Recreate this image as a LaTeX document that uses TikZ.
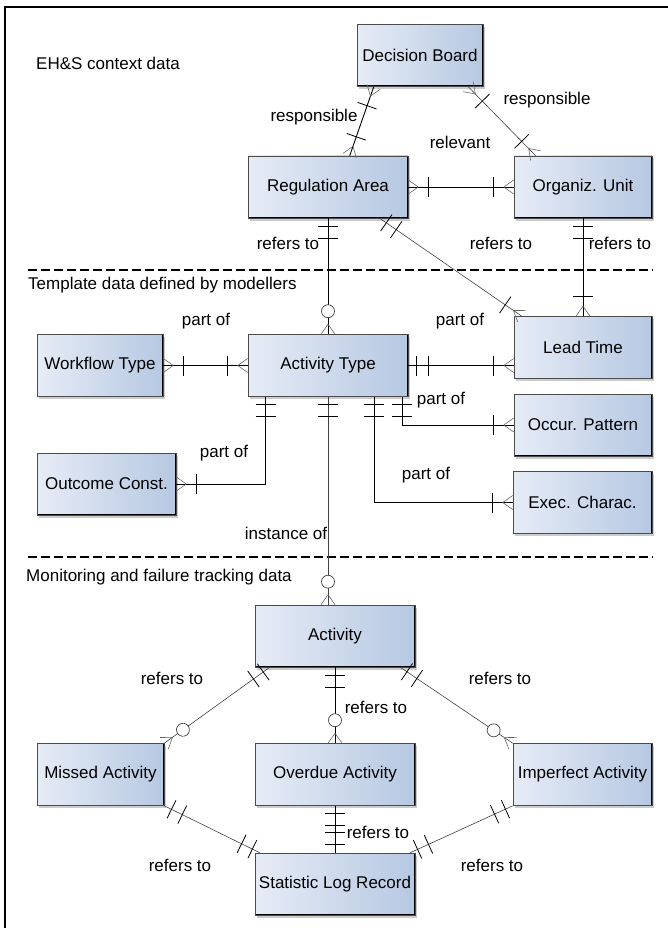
\documentclass[tikz,border=0pt]{standalone}
\usepackage{fontspec}
\setmainfont{Liberation Sans}
\usetikzlibrary{shadows,decorations.markings,calc}
\definecolor{boxl}{HTML}{E6ECF6}
\definecolor{boxr}{HTML}{B6C8E2}
\tikzset{
  entity/.style={draw=black!70, line width=0.6pt, left color=boxl, right color=boxr,
    minimum height=62pt, inner sep=0pt, font=\fontsize{17}{20}\selectfont,
    path picture={\draw[black,line width=2pt] (path picture bounding box.south west)
      -- (path picture bounding box.south east) -- (path picture bounding box.north east);},
    drop shadow={shadow xshift=2pt, shadow yshift=-2.5pt, fill=black!40}},
  lbl/.style={font=\fontsize{17}{20}\selectfont, inner sep=0pt},
  rel/.style={draw=black, line width=0.9pt},
  reld/.style={draw=black!75, line width=0.6pt},
  crowend/.style={postaction={decorate,decoration={markings,mark=at position 1 with
    {\draw[black!60,line width=0.6pt] (-10pt,0pt) -- (0pt,7pt) (-10pt,0pt) -- (0pt,-7pt);}}}},
  crowstart/.style={postaction={decorate,decoration={markings,mark=at position 0 with
    {\draw[black!60,line width=0.6pt] (10pt,0pt) -- (0pt,7pt) (10pt,0pt) -- (0pt,-7pt);}}}},
  barend/.style={postaction={decorate,decoration={markings,mark=at position -#1 with
    {\draw[black,line width=0.8pt] (0pt,-10pt) -- (0pt,10pt);}}}},
  barstart/.style={postaction={decorate,decoration={markings,mark=at position #1 with
    {\draw[black,line width=0.8pt] (0pt,-10pt) -- (0pt,10pt);}}}},
  circend/.style={postaction={decorate,decoration={markings,mark=at position -23pt with
    {\draw[black!75,fill=white,line width=0.7pt] (0pt,0pt) circle (6.5pt);}}}},
  onemanyend/.style={crowend, barend=20pt},
  onemanystart/.style={crowstart, barstart=20pt},
  oneend/.style={barend=8pt, barend=20pt},
  onestart/.style={barstart=8pt, barstart=20pt},
  zeromanyend/.style={crowend, circend}
}
\begin{document}
\begin{tikzpicture}[x=1pt,y=-1pt]
\useasboundingbox (0,0) rectangle (668,928);
\draw[line width=2.4pt] (5,928) -- (5,7) -- (668,7);

\node[lbl, anchor=west] (ctxhead) at (36,63) {EH\&S context data};
\node[entity, minimum width=126pt] (db) at (420,55.5) {Decision Board};
\node[entity, minimum width=160pt] (ra) at (328,187) {Regulation Area};
\node[entity, minimum width=138pt] (ou) at (583,187) {Organiz. Unit};

\draw[line width=2.2pt, dash pattern=on 9pt off 4pt] (28,270) -- (653,270);
\node[lbl, anchor=west] (tplhead) at (28,285) {Template data defined by modellers};
\node[entity, minimum width=126pt] (wt) at (100,365.5) {Workflow Type};
\node[entity, minimum width=160pt] (at) at (328,365.5) {Activity Type};
\node[entity, minimum width=138pt] (lt) at (583,347.5) {Lead Time};
\node[entity, minimum width=138pt] (op) at (583,425) {Occur. Pattern};
\node[entity, minimum width=139pt] (oc) at (106.5,484) {Outcome Const.};
\node[entity, minimum width=139pt] (ec) at (582.5,502.5) {Exec. Charac.};

\draw[line width=2.2pt, dash pattern=on 9pt off 4pt] (28,557) -- (653,557);
\node[lbl, anchor=west] (monhead) at (26,577) {Monitoring and failure tracking data};
\node[entity, minimum width=160pt] (act) at (335,636) {Activity};
\node[entity, minimum width=127pt] (mis) at (100.5,774.5) {Missed Activity};
\node[entity, minimum width=160pt] (ov) at (335,774.5) {Overdue Activity};
\node[entity, minimum width=139pt] (imp) at (582.5,774.5) {Imperfect Activity};
\node[entity, minimum width=160pt] (slr) at (335,884) {Statistic Log Record};

\draw[rel, onemanystart, onemanyend] ([xshift=17pt]db.south west) -- ([xshift=102pt]ra.north west);
\draw[reld, onemanystart, onemanyend] ([xshift=-15pt]db.south east) -- ([xshift=22pt]ou.north west);
\draw[rel, onemanystart, onemanyend] (ra) -- (ou);
\draw[rel, onestart, zeromanyend] (ra) -- (at);
\draw[rel, onestart, onemanyend] (ou) -- (lt);
\draw[reld, onestart, onemanyend] ([xshift=132pt]ra.south west) -- ([xshift=8pt]lt.north west);
\draw[rel, onemanystart, onemanyend] (wt) -- (at);
\draw[rel, onestart, onemanyend] (at.east) -- (at.east -| lt.west);
\draw[rel, onestart, onemanyend] ([xshift=-6pt]at.south east) |- (op.west);
\draw[rel, onestart, onemanyend] ([xshift=-34pt]at.south east) |- (ec.west);
\draw[rel, onestart, onemanyend] ([xshift=18pt]at.south west) |- (oc.east);
\draw[reld, onestart, zeromanyend] (at.south) -- (at.south |- act.north);
\draw[reld, onestart, zeromanyend] ([xshift=15pt]act.south west) -- (mis.north east);
\draw[rel, onestart, zeromanyend] (act) -- (ov);
\draw[reld, onestart, zeromanyend] ([xshift=-15pt]act.south east) -- (imp.north west);
\draw[reld, onestart, oneend] (mis.south east) -- ([xshift=5pt]slr.north west);
\draw[rel, onestart, oneend] (ov) -- (slr);
\draw[reld, onestart, oneend] (imp.south west) -- ([xshift=-5pt]slr.north east);

\node[lbl] (lresp1) at (314,117) {responsible};
\node[lbl] (lresp2) at (547,100) {responsible};
\node[lbl] (lrelev) at (460,142) {relevant};
\node[lbl] (lref1) at (288,243) {refers to};
\node[lbl] (lref2) at (501,243) {refers to};
\node[lbl] (lref3) at (620,243) {refers to};
\node[lbl] (lpart1) at (206,321) {part of};
\node[lbl] (lpart2) at (460,321) {part of};
\node[lbl] (lpart3) at (441,400) {part of};
\node[lbl] (lpart4) at (224,453) {part of};
\node[lbl] (lpart5) at (426,475) {part of};
\node[lbl] (linst) at (286,533) {instance of};
\node[lbl] (lref4) at (172,678) {refers to};
\node[lbl] (lref5) at (500,678) {refers to};
\node[lbl] (lref6) at (376,707) {refers to};
\node[lbl] (lref7) at (378,832) {refers to};
\node[lbl] (lref8) at (180,865) {refers to};
\node[lbl] (lref9) at (492,865) {refers to};
\end{tikzpicture}
\end{document}
